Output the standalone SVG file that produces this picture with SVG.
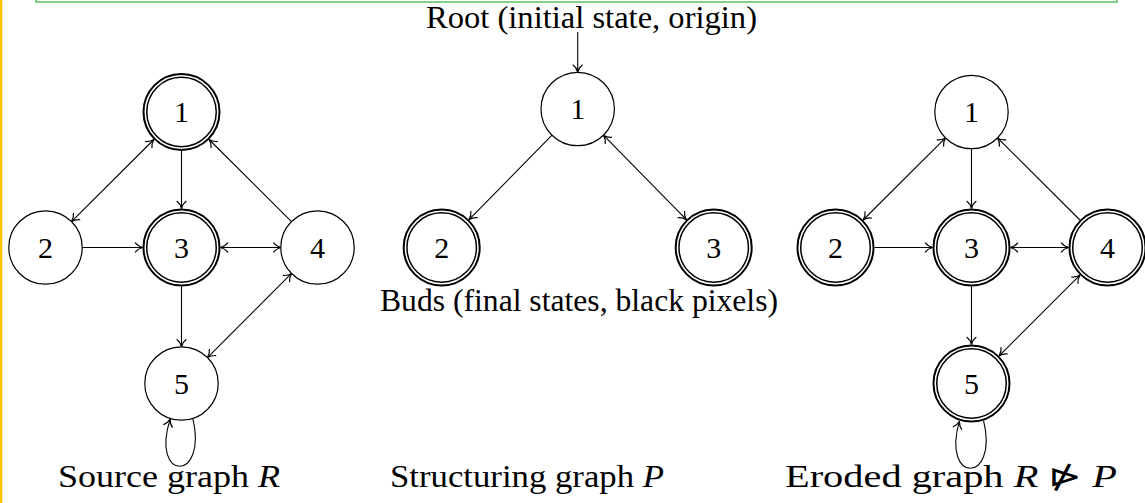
<svg xmlns="http://www.w3.org/2000/svg" width="1145" height="503" viewBox="0 0 1145 503">
<style>
.s{fill:#fff;stroke:#000;stroke-width:1.2}
.do{fill:#fff;stroke:#000;stroke-width:2}
.di{fill:none;stroke:#000;stroke-width:1.5}
.lbl{font-family:"Liberation Serif","DejaVu Serif",serif;font-size:30px;text-anchor:middle;fill:#000}
.cap{font-family:"Liberation Serif","DejaVu Serif",serif;font-size:31px;fill:#000}
.sym{font-family:"DejaVu Sans ExtraLight","DejaVu Sans",sans-serif;font-weight:200}
.e{fill:none;stroke:#000;stroke-width:1.1}
.a{marker-end:url(#arr)}
.b{marker-start:url(#arr);marker-end:url(#arr)}
</style>
<defs>
<marker id="arr" markerUnits="userSpaceOnUse" viewBox="-10 -6 12 12" markerWidth="12" markerHeight="12" refX="0" refY="0" orient="auto-start-reverse">
<path d="M -7.5 -4.8 C -5.2 -1.7 -2 -0.5 0 0 C -2 0.5 -5.2 1.7 -7.5 4.8" fill="none" stroke="#000" stroke-width="1.2"/>
</marker>
</defs>
<rect x="0" y="0" width="2.3" height="503" fill="#f8c700"/>
<path d="M 36 -1 V 2 H 1117 V -1" fill="none" stroke="#5cc05c" stroke-width="1.6"/>

<g id="connectors">
<!-- left graph -->
<line class="e b" x1="153.9" y1="139.5" x2="71.5" y2="221.6"/>
<line class="e a" x1="181.5" y1="151" x2="181.5" y2="208.5"/>
<line class="e a" x1="291.5" y1="221.6" x2="209.1" y2="139.5"/>
<line class="e a" x1="82.2" y1="247.5" x2="142.5" y2="247.5"/>
<line class="e b" x1="220.5" y1="247.5" x2="280.8" y2="247.5"/>
<line class="e a" x1="181.5" y1="286.5" x2="181.5" y2="346.8"/>
<line class="e b" x1="207.45" y1="357.55" x2="291.55" y2="273.45"/>
<path class="e a" d="M 192.8 418.4 C 208 482 150 482 170.2 419"/>
<!-- middle graph -->
<line class="e a" x1="577.7" y1="32" x2="577.7" y2="72.3"/>
<line class="e a" x1="552" y1="135.2" x2="469" y2="219.7"/>
<line class="e b" x1="603.4" y1="135.2" x2="686.4" y2="219.7"/>
<!-- right graph -->
<line class="e b" x1="945.5" y1="137.9" x2="863.1" y2="220"/>
<line class="e a" x1="971.5" y1="148.7" x2="971.5" y2="208.5"/>
<line class="e a" x1="1079.9" y1="220" x2="997.5" y2="137.9"/>
<line class="e a" x1="874.5" y1="247.5" x2="932.5" y2="247.5"/>
<line class="e b" x1="1010.5" y1="247.5" x2="1068.5" y2="247.5"/>
<line class="e a" x1="971.5" y1="286.5" x2="971.5" y2="344.5"/>
<line class="e b" x1="999.1" y1="355.9" x2="1079.9" y2="275.1"/>
<path class="e a" d="M 983.55 420.6 C 999 484 941 484 959.45 421.2"/>
</g>

<!-- left graph nodes -->
<g id="R1"><circle class="do" cx="181.5" cy="112" r="38"/><circle class="di" cx="181.5" cy="112" r="34.75"/><text class="lbl" x="181.5" y="122">1</text></g>
<g id="R2"><circle class="s" cx="45.5" cy="247.5" r="36.7"/><text class="lbl" x="45.5" y="257.5">2</text></g>
<g id="R3"><circle class="do" cx="181.5" cy="247.5" r="38"/><circle class="di" cx="181.5" cy="247.5" r="34.75"/><text class="lbl" x="181.5" y="257.5">3</text></g>
<g id="R4"><circle class="s" cx="317.5" cy="247.5" r="36.7"/><text class="lbl" x="317.5" y="257.5">4</text></g>
<g id="R5"><circle class="s" cx="181.5" cy="383.5" r="36.7"/><text class="lbl" x="181.5" y="393.5">5</text></g>

<!-- middle graph nodes -->
<g id="P1"><circle class="s" cx="577.7" cy="109" r="36.7"/><text class="lbl" x="577.7" y="119">1</text></g>
<g id="P2"><circle class="do" cx="441.7" cy="247.5" r="38"/><circle class="di" cx="441.7" cy="247.5" r="34.75"/><text class="lbl" x="441.7" y="257.5">2</text></g>
<g id="P3"><circle class="do" cx="713.7" cy="247.5" r="38"/><circle class="di" cx="713.7" cy="247.5" r="34.75"/><text class="lbl" x="713.7" y="257.5">3</text></g>

<!-- right graph nodes -->
<g id="E1"><circle class="s" cx="971.5" cy="112" r="36.7"/><text class="lbl" x="971.5" y="122">1</text></g>
<g id="E2"><circle class="do" cx="835.5" cy="247.5" r="38"/><circle class="di" cx="835.5" cy="247.5" r="34.75"/><text class="lbl" x="835.5" y="257.5">2</text></g>
<g id="E3"><circle class="do" cx="971.5" cy="247.5" r="38"/><circle class="di" cx="971.5" cy="247.5" r="34.75"/><text class="lbl" x="971.5" y="257.5">3</text></g>
<g id="E4"><circle class="do" cx="1107.5" cy="247.5" r="38"/><circle class="di" cx="1107.5" cy="247.5" r="34.75"/><text class="lbl" x="1107.5" y="257.5">4</text></g>
<g id="E5"><circle class="do" cx="971.5" cy="383.5" r="38"/><circle class="di" cx="971.5" cy="383.5" r="34.75"/><text class="lbl" x="971.5" y="393.5">5</text></g>

<g id="captions">
<text class="cap" x="426" y="28" textLength="331" lengthAdjust="spacingAndGlyphs">Root (initial state, origin)</text>
<text class="cap" x="380" y="311" textLength="398" lengthAdjust="spacingAndGlyphs">Buds (final states, black pixels)</text>
<text class="cap" x="58" y="487" textLength="222" lengthAdjust="spacingAndGlyphs">Source graph <tspan font-style="italic">R</tspan></text>
<text class="cap" x="390" y="487" textLength="274" lengthAdjust="spacingAndGlyphs">Structuring graph <tspan font-style="italic">P</tspan></text>
<text class="cap" x="785" y="487" textLength="332" lengthAdjust="spacingAndGlyphs">Eroded graph <tspan font-style="italic">R</tspan> <tspan class="sym">⋫</tspan> <tspan font-style="italic">P</tspan></text>
</g>
</svg>
